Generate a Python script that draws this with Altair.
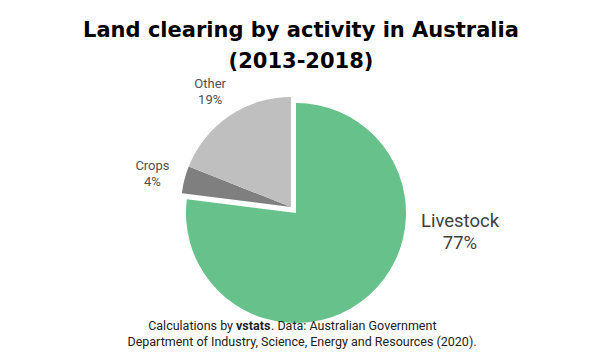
import math
import altair as alt
import pandas as pd

# ---- data ----
categories = ["Livestock", "Crops", "Other"]
shares = [77, 4, 19]
label_text = ["Livestock\n77%", "Crops\n4%", "Other\n19%"]
colors = ["#66C18A", "#7F7F7F", "#BFBFBF"]
order = [0, 1, 2]

title_lines = ["Land clearing by activity in Australia", "(2013-2018)"]
footer_parts = ["Calculations by", "vstats", ". Data: Australian Government",
                "Department of Industry, Science, Energy and Resources (2020)."]

df = pd.DataFrame({"category": categories, "value": shares,
                   "label": label_text, "order": order})

W, H = 586, 273
CX, CY = 283, 127          # centre of the grey slices (view coords)
PX, PY = 288, 133          # centre of the pulled-out Livestock slice
R = 110

theta_scale = alt.Scale(domain=[0, 100], range=[0, 2 * math.pi])
color_scale = alt.Scale(domain=categories, range=colors)

base = alt.Chart(df).transform_stack(
    stack="value", as_=["v0", "v1"], groupby=[],
    sort=[alt.SortField("order", order="ascending")]
).transform_calculate(mid="(datum.v0 + datum.v1) / 2")

arcs_rest = base.transform_filter(alt.datum.category != "Livestock").mark_arc(
    radius=R
).encode(
    theta=alt.Theta("v0:Q", scale=theta_scale),
    theta2="v1:Q",
    color=alt.Color("category:N", scale=color_scale, legend=None),
    x=alt.value(CX), y=alt.value(CY),
)

arc_live = base.transform_filter(alt.datum.category == "Livestock").mark_arc(
    radius=R
).encode(
    theta=alt.Theta("v0:Q", scale=theta_scale),
    theta2="v1:Q",
    color=alt.Color("category:N", scale=color_scale, legend=None),
    x=alt.value(PX), y=alt.value(PY),
)

small_labels = base.transform_filter(alt.datum.category != "Livestock").mark_text(
    font="Roboto", fontSize=13, color="#505050", lineBreak="\n",
    lineHeight=16, align="center", baseline="middle"
).encode(
    theta=alt.Theta("mid:Q", scale=theta_scale),
    radius=alt.value(142),
    text="label:N",
    x=alt.value(CX - 1), y=alt.value(CY - 6),
)

live_label = base.transform_filter(alt.datum.category == "Livestock").mark_text(
    font="Roboto", fontSize=18.5, color="#404040", lineBreak="\n",
    lineHeight=22, align="center", baseline="middle"
).encode(
    text="label:N",
    x=alt.value(452), y=alt.value(141),
)

FS = 12.5
fdf = pd.DataFrame({"a": [0]})
f1 = alt.Chart(fdf).mark_text(font="Roboto", fontSize=FS, color="#222222",
                              align="right", baseline="alphabetic").encode(
    text=alt.value(footer_parts[0]), x=alt.value(225), y=alt.value(250))
f2 = alt.Chart(fdf).mark_text(font="Roboto", fontSize=FS, color="#222222",
                              fontWeight="bold", align="left",
                              baseline="alphabetic").encode(
    text=alt.value(footer_parts[1]), x=alt.value(228), y=alt.value(250))
f3 = alt.Chart(fdf).mark_text(font="Roboto", fontSize=FS, color="#222222",
                              align="left", baseline="alphabetic").encode(
    text=alt.value(footer_parts[2]), x=alt.value(263), y=alt.value(250))
f4 = alt.Chart(fdf).mark_text(font="Roboto", fontSize=FS, color="#222222",
                              align="center", baseline="alphabetic").encode(
    text=alt.value(footer_parts[3]), x=alt.value(294), y=alt.value(266))

chart = alt.layer(arcs_rest, arc_live, small_labels, live_label, f1, f2, f3, f4).properties(
    width=W, height=H,
    background="white",
    title=alt.TitleParams(title_lines, font="DejaVu Sans", fontSize=21, fontWeight="bold",
                          color="#000000", anchor="middle", lineHeight=31, offset=6),
    autosize=alt.AutoSizeParams(type="none"),
    padding={"left": 0, "top": 72, "right": 0, "bottom": 0},
).configure_view(strokeWidth=0, stroke="transparent")

chart.save("out.html", embed_options={"renderer": "svg", "actions": False})
